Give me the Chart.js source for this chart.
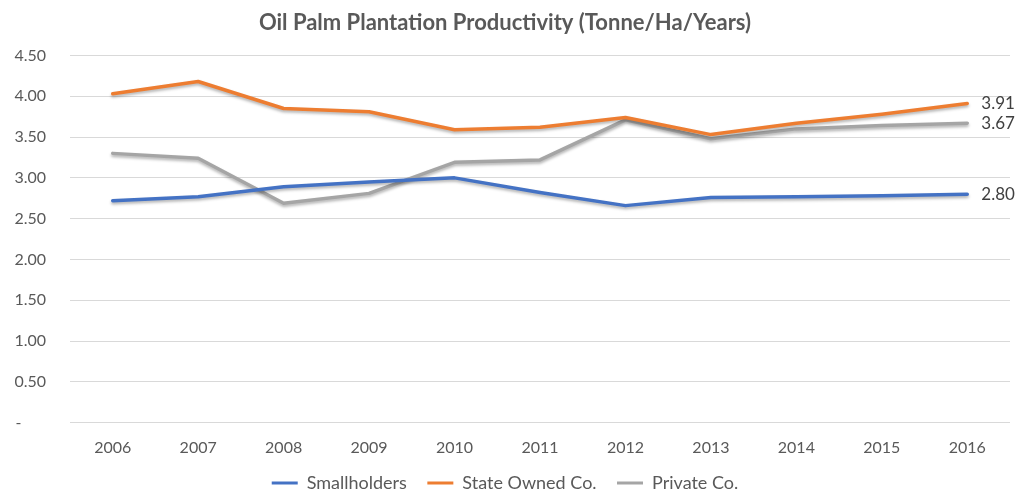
<!DOCTYPE html>
<html>
<head>
<meta charset="utf-8">
<script src="https://cdn.jsdelivr.net/npm/chart.js@4"></script>
<style>
    body { margin: 0; background: #fff; overflow: hidden; }
    #wrap { width: 1019px; height: 490px; }
</style>
</head>
<body>
<div id="wrap"><canvas id="oilChart" width="1019" height="490"></canvas></div>
<script>
const years = ["2006", "2007", "2008", "2009", "2010", "2011", "2012", "2013", "2014", "2015", "2016"];
const smallholders = [2.72, 2.77, 2.89, 2.95, 3.00, 2.82, 2.66, 2.76, 2.77, 2.78, 2.80];
const stateOwned = [4.03, 4.18, 3.85, 3.81, 3.59, 3.62, 3.74, 3.53, 3.67, 3.78, 3.91];
const privateCo = [3.30, 3.24, 2.69, 2.81, 3.19, 3.22, 3.71, 3.48, 3.60, 3.64, 3.67];
const yTicks = [0, 0.5, 1, 1.5, 2, 2.5, 3, 3.5, 4, 4.5];

const fontFamily = "Lato, 'Open Sans', sans-serif";
const textColor = "#595959";

// labels on the last point of every line
const endLabels = {
    id: "endLabels",
    afterDatasetsDraw(chart) {
        const ctx = chart.ctx;
        ctx.save();
        ctx.font = "17px " + fontFamily;
        ctx.fillStyle = "#404040";
        ctx.textAlign = "left";
        ctx.textBaseline = "middle";
        chart.data.datasets.forEach((ds, i) => {
            const meta = chart.getDatasetMeta(i);
            const pt = meta.data[meta.data.length - 1];
            const v = ds.data[ds.data.length - 1];
            ctx.fillText(v.toFixed(2), pt.x + 14, pt.y);
        });
        ctx.restore();
    }
};

// soft shadow under the lines
const lineShadow = {
    id: "lineShadow",
    beforeDatasetsDraw(chart) {
        chart.ctx.save();
        chart.ctx.shadowColor = "rgba(0,0,0,0.3)";
        chart.ctx.shadowBlur = 3;
        chart.ctx.shadowOffsetY = 2;
    },
    afterDatasetsDraw(chart) {
        chart.ctx.restore();
    }
};

new Chart(document.getElementById("oilChart"), {
    type: "line",
    data: {
        labels: years,
        datasets: [
            {
                label: "Smallholders",
                data: smallholders,
                borderColor: "#4472C4",
                backgroundColor: "#4472C4",
            },
            {
                label: "State Owned Co.",
                data: stateOwned,
                borderColor: "#ED7D31",
                backgroundColor: "#ED7D31",
            },
            {
                label: "Private Co.",
                data: privateCo,
                borderColor: "#A5A5A5",
                backgroundColor: "#A5A5A5",
            }
        ]
    },
    options: {
        responsive: false,
        animation: false,
        layout: { padding: { left: 0, right: 9, top: 0, bottom: -12 } },
        elements: {
            line: { borderWidth: 3.5, tension: 0, borderCapStyle: "round", borderJoinStyle: "round" },
            point: { radius: 0 }
        },
        plugins: {
            title: {
                display: true,
                text: "Oil Palm Plantation Productivity (Tonne/Ha/Years)",
                color: textColor,
                font: { family: fontFamily, size: 22, weight: "bold" },
                padding: { top: 10, bottom: 19 }
            },
            legend: {
                position: "bottom",
                labels: {
                    color: textColor,
                    font: { family: fontFamily, size: 18 },
                    boxWidth: 26,
                    boxHeight: 3,
                    padding: 2,
                    // extra room between the items
                    generateLabels: (chart) => {
                        const items = Chart.defaults.plugins.legend.labels.generateLabels(chart);
                        items.forEach((it, i) => {
                            it.lineWidth = 0;
                            if (i < items.length - 1) it.text = it.text + "    ";
                        });
                        return items;
                    }
                }
            },
            tooltip: { enabled: false }
        },
        scales: {
            x: {
                offset: true,
                grid: { display: false, drawTicks: false },
                border: { display: false },
                ticks: { color: textColor, font: { family: fontFamily, size: 16 }, padding: 15 }
            },
            y: {
                min: 0,
                max: 4.5,
                afterBuildTicks: (scale) => { scale.ticks = yTicks.map(v => ({ value: v })); },
                afterFit: (scale) => { scale.width = 70; },
                grid: { color: "#D9D9D9", drawTicks: false },
                border: { display: false },
                ticks: {
                    color: textColor,
                    font: { family: fontFamily, size: 16 },
                    padding: 24,
                    callback: (v) => v === 0 ? "-      " : v.toFixed(2)
                }
            }
        }
    },
    plugins: [lineShadow, endLabels]
});
</script>
</body>
</html>
